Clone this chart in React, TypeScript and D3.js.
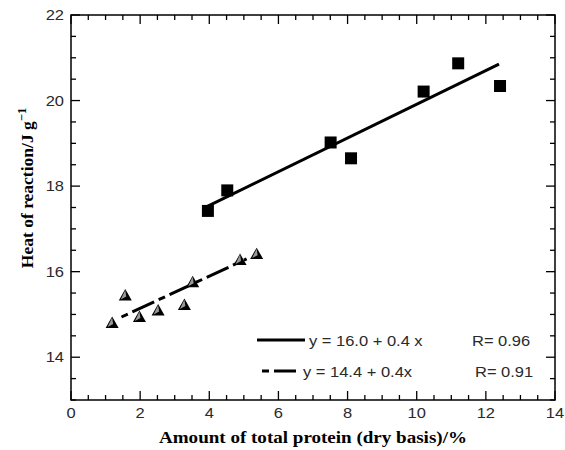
import React from "react";
import * as d3 from "d3";

const squareX = [3.96, 4.52, 7.51, 8.1, 10.2, 11.2, 12.41];
const squareY = [17.42, 17.9, 19.02, 18.65, 20.21, 20.87, 20.34];
const triX = [1.19, 1.57, 1.98, 2.52, 3.28, 3.52, 4.89, 5.37];
const triY = [14.8, 15.44, 14.94, 15.09, 15.22, 15.75, 16.27, 16.41];
const fitSolidX = [3.93, 12.38];
const fitSolidY = [17.52, 20.85];
const fitDashX = [1.46, 5.08];
const fitDashY = [14.94, 16.3];
const xTicks = [0, 2, 4, 6, 8, 10, 12, 14];
const yTicks = [14, 16, 18, 20, 22];
const legendEq = ["y = 16.0 + 0.4 x", "y = 14.4 + 0.4x"];
const legendR = ["R= 0.96", "R= 0.91"];

export default function App() {
  const W = 565, H = 450;
  const left = 71, right = 555, top = 15, bottom = 400;
  const x = d3.scaleLinear().domain([0, 14]).range([left, right]);
  const y = d3.scaleLinear().domain([13, 22]).range([bottom, top]);
  const xMinor = d3.range(0, 14.01, 0.5);
  const yMinor = d3.range(13, 22.01, 0.5);
  const line = d3.line<[number, number]>().x(d => x(d[0])).y(d => y(d[1]));
  const solidPts: [number, number][] = fitSolidX.map((v, i) => [v, fitSolidY[i]]);
  const dashPts: [number, number][] = fitDashX.map((v, i) => [v, fitDashY[i]]);
  const isMajor = (v: number) => Math.abs(v - Math.round(v)) < 1e-6 && Math.round(v) % 2 === 0;
  const sans = "Liberation Sans, Arial, sans-serif";
  const serif = "Liberation Serif, Times New Roman, serif";
  const sx = 1.1;
  const tri = (cx: number, cy: number) => {
    const s = 6.5;
    return `M${cx},${cy - s} L${cx + s},${cy + s * 0.75} L${cx - s},${cy + s * 0.75} Z`;
  };
  const triHi = (cx: number, cy: number) => {
    const s = 6.5;
    return `M${cx},${cy - s + 1} L${cx + 1},${cy + 1} L${cx - s + 2},${cy + s * 0.75 - 1} Z`;
  };
  const T = (px: number, py: number, txt: string, anchor: string, key: string) => (
    <text key={key} transform={`translate(${px},${py}) scale(${sx},1)`} textAnchor={anchor as any}
      fontFamily={sans} fontSize={15} fill="#2a2a2a">{txt}</text>
  );
  return (
    <svg width={W} height={H} style={{ position: "absolute", left: 0, top: 0, background: "#fff" }}>
      <rect x={0} y={0} width={W} height={H} fill="#fff" />
      <rect x={left} y={top} width={right - left} height={bottom - top} fill="none" stroke="#000" strokeWidth={1.5} />
      {xMinor.map((v, i) => {
        const len = isMajor(v) ? 9 : 5;
        return (
          <g key={"xt" + i}>
            <line x1={x(v)} x2={x(v)} y1={bottom} y2={bottom - len} stroke="#000" strokeWidth={1.3} />
            <line x1={x(v)} x2={x(v)} y1={top} y2={top + len} stroke="#000" strokeWidth={1.3} />
          </g>
        );
      })}
      {yMinor.map((v, i) => {
        const len = isMajor(v) ? 9 : 5;
        return (
          <g key={"yt" + i}>
            <line x1={left} x2={left + len} y1={y(v)} y2={y(v)} stroke="#000" strokeWidth={1.3} />
            <line x1={right} x2={right - len} y1={y(v)} y2={y(v)} stroke="#000" strokeWidth={1.3} />
          </g>
        );
      })}
      {xTicks.map(v => T(x(v), 418, String(v), "middle", "xl" + v))}
      {yTicks.map(v => T(64, y(v) + 5, String(v), "end", "yl" + v))}
      <text x={313} y={443} textAnchor="middle" fontFamily={serif} fontWeight="bold" fontSize={16.5}
        textLength={308} lengthAdjust="spacingAndGlyphs">Amount of total protein (dry basis)/%</text>
      <text transform={`translate(33,${188}) rotate(-90)`} textAnchor="middle" fontFamily={serif} fontWeight="bold" fontSize={17.5}>
        Heat of reaction/J g<tspan dy={-7} fontSize={12.5}>−1</tspan>
      </text>
      <path d={line(solidPts) || ""} fill="none" stroke="#000" strokeWidth={3} />
      <path d={line(dashPts) || ""} fill="none" stroke="#000" strokeWidth={3} strokeDasharray="7,5,24,5" />
      {squareX.map((v, i) => (
        <rect key={"sq" + i} x={x(v) - 6} y={y(squareY[i]) - 6} width={12} height={12} fill="#000" />
      ))}
      {triX.map((v, i) => (
        <g key={"tr" + i}>
          <path d={tri(x(v), y(triY[i]))} fill="#000" />
          <path d={triHi(x(v), y(triY[i]))} fill="#999" />
        </g>
      ))}
      <line x1={257} x2={305} y1={340} y2={340} stroke="#000" strokeWidth={3} />
      {T(309, 346, legendEq[0], "start", "le0")}
      {T(472, 346, legendR[0], "start", "lr0")}
      <line x1={262} x2={296} y1={371} y2={371} stroke="#000" strokeWidth={3} strokeDasharray="7,5,22,5" />
      {T(303, 377, legendEq[1], "start", "le1")}
      {T(475, 377, legendR[1], "start", "lr1")}
    </svg>
  );
}
